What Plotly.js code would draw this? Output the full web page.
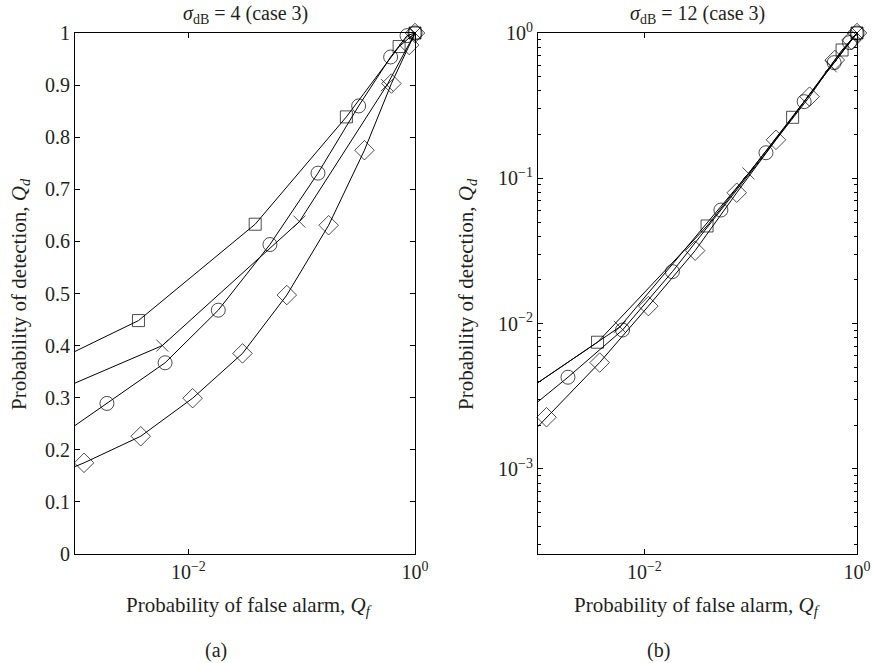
<!DOCTYPE html>
<html>
<head>
<meta charset="utf-8">
<script src="https://cdn.plot.ly/plotly-3.0.1.min.js"></script>
<style>html,body{margin:0;padding:0;background:#fff;}#chart{width:872px;height:663px;}</style>
</head>
<body>
<div id="chart"></div>
<script>
// Probability of false alarm (Q_f) per series (shared by both panels)
const qfSquare  = [0.0005, 0.00363, 0.0389, 0.248, 0.724, 1];
const qfCross   = [0.0005, 0.00589, 0.0955, 0.566, 1];
const qfCircle  = [0.0005, 0.001914, 0.006237, 0.01837, 0.05248, 0.1393, 0.3184, 0.6095, 0.8511, 1];
const qfDiamond = [0.0005, 0.001202, 0.003802, 0.01091, 0.03006, 0.07396, 0.1730, 0.3581, 0.6194, 0.8872, 1];

// Panel (a): sigma_dB = 4, probability of detection (linear axis)
const qdA_square  = [0.357, 0.448, 0.633, 0.839, 0.974, 1.0];
const qdA_cross   = [0.300, 0.400, 0.638, 0.900, 1.0];
const qdA_circle  = [0.201, 0.289, 0.367, 0.468, 0.594, 0.731, 0.860, 0.954, 0.995, 1.0];
const qdA_diamond = [0.141, 0.175, 0.226, 0.299, 0.385, 0.497, 0.631, 0.775, 0.903, 0.977, 1.0];

// Panel (b): sigma_dB = 12, probability of detection (log axis)
const qdB_square  = [0.00279, 0.00745, 0.0470, 0.263, 0.764, 1];
const qdB_cross   = [0.00278, 0.0095, 0.108, 0.59, 1];
const qdB_circle  = [0.00192, 0.00428, 0.00904, 0.0228, 0.0605, 0.150, 0.337, 0.625, 0.859, 1];
const qdB_diamond = [0.00116, 0.00227, 0.0054, 0.0132, 0.0318, 0.0796, 0.184, 0.365, 0.652, 0.895, 1];

const xTickVals = [0.01, 1];
const xTickText = ["10<sup>−2</sup>", "10<sup>0</sup>"];
const yLogTickVals = [0.001, 0.01, 0.1, 1];
const yLogTickText = ["10<sup>−3</sup>", "10<sup>−2</sup>", "10<sup>−1</sup>", "10<sup>0</sup>"];

const titleA = "<i>σ</i><sub>dB</sub> = 4 (case 3)";
const titleB = "<i>σ</i><sub>dB</sub> = 12 (case 3)";
const xLabel = "Probability of false alarm, <i>Q<sub>f</sub></i>";
const yLabel = "Probability of detection, <i>Q<sub>d</sub></i>";

const FONT = "Liberation Serif, Times New Roman, serif";
const TXT = "#231f20";
const XMIN = 0.001; // left edge of both x axes

function series(x, y, symbol, size, xa, ya) {
  return {
    x: x, y: y, xaxis: xa, yaxis: ya,
    type: "scatter", mode: "lines+markers", cliponaxis: false,
    line: {color: "#000", width: 1},
    marker: {symbol: symbol, size: x.map(v => v < XMIN ? 0 : size), color: "#000",
             line: {color: "#000", width: 1}},
    showlegend: false, hoverinfo: "skip"
  };
}

const traces = [
  series(qfSquare, qdA_square, "square-open", 12, "x", "y"),
  series(qfCross, qdA_cross, "x-thin-open", 12, "x", "y"),
  series(qfCircle, qdA_circle, "circle-open", 14, "x", "y"),
  series(qfDiamond, qdA_diamond, "diamond-open", 15, "x", "y"),
  series(qfSquare, qdB_square, "square-open", 12, "x2", "y2"),
  series(qfCross, qdB_cross, "x-thin-open", 12, "x2", "y2"),
  series(qfCircle, qdB_circle, "circle-open", 14, "x2", "y2"),
  series(qfDiamond, qdB_diamond, "diamond-open", 15, "x2", "y2")
];

// minor tick positions for log y axis
const minorVals = [];
for (let e = -4; e < 0; e++) for (let m = 2; m <= 9; m++) minorVals.push(m * Math.pow(10, e));

const axisCommon = {
  showline: true, linecolor: "#000", linewidth: 1, mirror: "ticks",
  ticks: "inside", ticklen: 5, tickcolor: "#000", tickwidth: 1,
  showgrid: false, zeroline: false,
  tickfont: {family: FONT, size: 20, color: TXT}
};

const yDom = [1 - 554/663, 1 - 33/663];

function ann(text, px, py, size, angle) {
  return {text: text, x: px/872, y: 1 - py/663, xref: "paper", yref: "paper",
          xanchor: "center", yanchor: "middle", showarrow: false,
          textangle: angle || 0, font: {size: size, family: FONT, color: TXT}};
}

const layout = {
  width: 872, height: 663,
  margin: {l: 0, r: 0, t: 0, b: 0},
  paper_bgcolor: "#fff", plot_bgcolor: "#fff",
  font: {family: FONT, color: TXT},
  xaxis: Object.assign({}, axisCommon, {
    type: "log", domain: [75/872, 415/872], range: [-3, 0],
    tickmode: "array", tickvals: xTickVals, ticktext: xTickText, anchor: "y"
  }),
  yaxis: Object.assign({}, axisCommon, {
    domain: yDom, range: [0, 1], dtick: 0.1, tick0: 0, anchor: "x"
  }),
  xaxis2: Object.assign({}, axisCommon, {
    type: "log", domain: [538/872, 857/872], range: [-3, 0],
    tickmode: "array", tickvals: xTickVals, ticktext: xTickText, anchor: "y2"
  }),
  yaxis2: Object.assign({}, axisCommon, {
    type: "log", domain: yDom, range: [-3.585, 0],
    tickmode: "array", tickvals: yLogTickVals, ticktext: yLogTickText, anchor: "x2",
    minor: {tickmode: "array", tickvals: minorVals, ticks: "inside", ticklen: 3, tickcolor: "#000"}
  }),
  annotations: [
    ann(titleA, 245, 14, 20),
    ann(titleB, 697, 14, 20),
    ann(xLabel, 249, 606, 21),
    ann(xLabel, 697, 606, 21),
    ann(yLabel, 20, 294, 21, -90),
    ann(yLabel, 467, 294, 21, -90),
    ann("(a)", 216, 650, 20),
    ann("(b)", 658, 650, 20)
  ]
};

Plotly.newPlot("chart", traces, layout, {staticPlot: true, displayModeBar: false});
</script>
</body>
</html>
